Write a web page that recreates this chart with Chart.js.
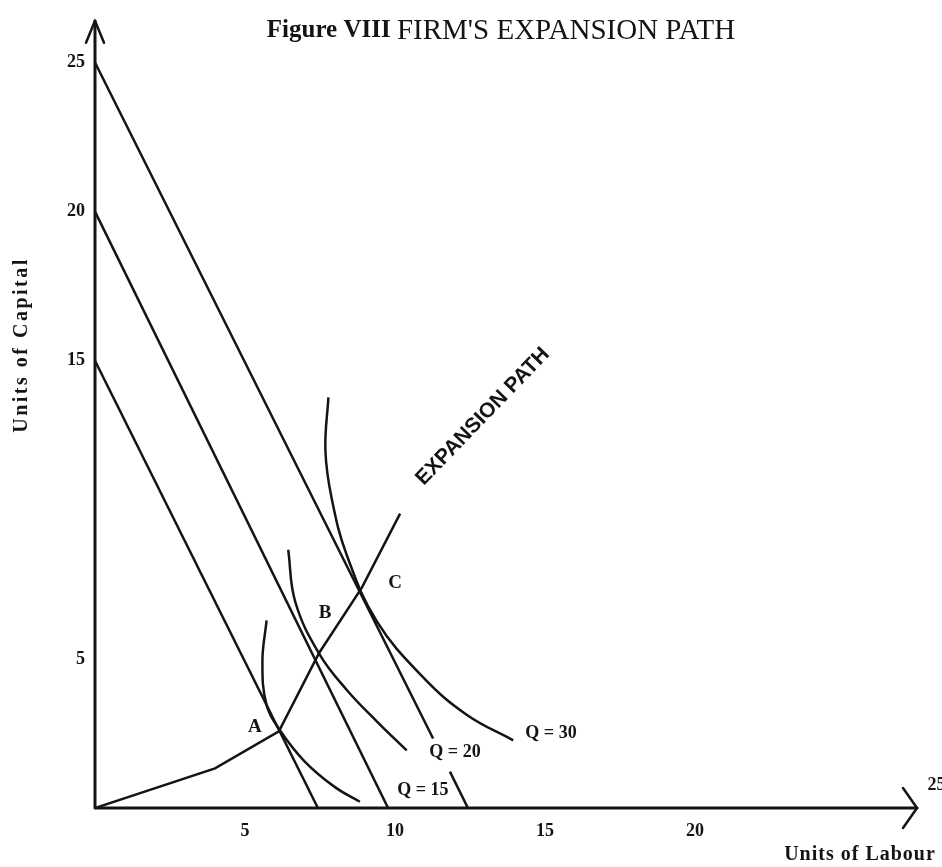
<!DOCTYPE html>
<html>
<head>
<meta charset="utf-8">
<script src="https://cdn.jsdelivr.net/npm/chart.js@4"></script>
<style>
  html, body { margin: 0; padding: 0; background: #fff; }
  #wrap { width: 942px; height: 867px; position: relative; }
</style>
</head>
<body>
<div id="wrap"><canvas id="chart"></canvas></div>
<script>
// Isocost lines (labour L, capital K)
const isocost15L = [0, 7.43];
const isocost15K = [15, 0];
const isocost20L = [0, 9.77];
const isocost20K = [20, 0];
const isocost25L = [0, 11.27, null, 11.83, 12.43]; // gap where "Q=20" is printed
const isocost25K = [25, 2.33, null, 1.22, 0];

// Isoquants
const q15L = [5.72, 5.58, 5.72, 6.17, 7.0, 8.0, 8.83];
const q15K = [6.29, 4.9, 3.45, 2.6, 1.55, 0.7, 0.21];
const q20L = [6.44, 6.68, 7.48, 8.4, 9.4, 10.39];
const q20K = [8.66, 6.9, 5.16, 3.95, 2.9, 1.93];
const q30L = [7.78, 7.68, 7.89, 8.39, 9.39, 10.94, 12.4, 13.94];
const q30K = [13.77, 12.0, 10.38, 8.49, 6.27, 4.38, 3.12, 2.27];

// Expansion path
const pathL = [0, 4, 6.13, 7.47, 8.9, 10.17];
const pathK = [0, 1.33, 2.57, 5.2, 7.4, 9.87];

// Tick labels
const xTicks = [5, 10, 15, 20];
const yTicks = [5, 15, 20, 25];

// Text labels placed in data units
const pointLabels = [
  { text: "A", L: 5.33, K: 2.7 },
  { text: "B", L: 7.67, K: 6.53 },
  { text: "C", L: 10.0, K: 7.55 },
];
const curveLabels = [
  { text: "Q = 15", L: 10.93, K: 0.6 },
  { text: "Q = 20", L: 12.0, K: 1.87 },
  { text: "Q = 30", L: 15.2, K: 2.5 },
];

const ink = "#141414";

function toPoints(xs, ys) {
  return xs.map((x, i) => ({ x: x, y: x === null ? null : ys[i] }));
}

function lineSet(xs, ys, curved) {
  return {
    data: toPoints(xs, ys),
    showLine: true,
    borderColor: ink,
    borderWidth: 2.5,
    pointRadius: 0,
    tension: curved ? 0.4 : 0,
    spanGaps: false,
  };
}

// 軸・矢印・文字を描くプラグイン
const decorPlugin = {
  id: "decor",
  afterDatasetsDraw(chart) {
    const ctx = chart.ctx;
    const xs = chart.scales.x;
    const ys = chart.scales.y;
    const area = chart.chartArea;
    const ox = xs.getPixelForValue(0);
    const oy = ys.getPixelForValue(0);

    ctx.save();
    ctx.strokeStyle = ink;
    ctx.fillStyle = ink;
    ctx.lineCap = "round";
    ctx.lineJoin = "round";

    // axes
    ctx.lineWidth = 3;
    ctx.beginPath();
    ctx.moveTo(ox, area.top);
    ctx.lineTo(ox, oy);
    ctx.lineTo(area.right, oy);
    ctx.stroke();

    // arrow heads
    ctx.lineWidth = 2.5;
    ctx.beginPath();
    ctx.moveTo(ox - 9, area.top + 22);
    ctx.lineTo(ox, area.top);
    ctx.lineTo(ox + 9, area.top + 22);
    ctx.moveTo(area.right - 14, oy - 20);
    ctx.lineTo(area.right, oy);
    ctx.lineTo(area.right - 14, oy + 20);
    ctx.stroke();

    // title
    ctx.textBaseline = "middle";
    ctx.textAlign = "left";
    const t1 = "Figure VIII ";
    const t2 = "FIRM'S EXPANSION PATH";
    const f1 = "bold 25px 'Liberation Serif'";
    const f2 = "29px 'Liberation Serif'";
    ctx.font = f1;
    const w1 = ctx.measureText(t1).width;
    ctx.font = f2;
    const w2 = ctx.measureText(t2).width;
    const tx = 501 - (w1 + w2) / 2;
    ctx.font = f1;
    ctx.fillText(t1, tx, 31);
    ctx.font = f2;
    ctx.fillText(t2, tx + w1, 31);

    // axis titles
    ctx.font = "bold 20px 'Liberation Serif'";
    ctx.letterSpacing = "2.5px";
    ctx.save();
    ctx.translate(22, 345);
    ctx.rotate(-Math.PI / 2);
    ctx.textAlign = "center";
    ctx.fillText("Units of Capital", 0, 0);
    ctx.restore();
    ctx.letterSpacing = "1px";
    ctx.textAlign = "center";
    ctx.fillText("Units of Labour", 860, 855);
    ctx.letterSpacing = "0px";

    // stray "25" by the arrow
    ctx.font = "bold 18px 'Liberation Serif'";
    ctx.fillText("25", xs.getPixelForValue(28.05), ys.getPixelForValue(0.75));

    // A, B, C
    ctx.font = "bold 19px 'Liberation Serif'";
    pointLabels.forEach((p) => {
      ctx.fillText(p.text, xs.getPixelForValue(p.L), ys.getPixelForValue(p.K));
    });

    // Q labels
    ctx.font = "bold 18px 'Liberation Serif'";
    curveLabels.forEach((p) => {
      ctx.fillText(p.text, xs.getPixelForValue(p.L), ys.getPixelForValue(p.K));
    });

    // EXPANSION PATH
    ctx.save();
    ctx.translate(xs.getPixelForValue(12.93), ys.getPixelForValue(13.13));
    ctx.rotate(-46 * Math.PI / 180);
    ctx.font = "bold 21px 'Liberation Sans'";
    ctx.textAlign = "center";
    ctx.fillText("EXPANSION PATH", 0, 0);
    ctx.restore();

    ctx.restore();
  },
};

new Chart(document.getElementById("chart"), {
  type: "scatter",
  data: {
    datasets: [
      lineSet(isocost15L, isocost15K, false),
      lineSet(isocost20L, isocost20K, false),
      lineSet(isocost25L, isocost25K, false),
      lineSet(q15L, q15K, true),
      lineSet(q20L, q20K, true),
      lineSet(q30L, q30K, true),
      lineSet(pathL, pathK, false),
    ],
  },
  options: {
    responsive: true,
    maintainAspectRatio: false,
    animation: false,
    layout: {
      padding: { top: 16, right: 25, left: 0, bottom: 0 },
    },
    plugins: {
      legend: { display: false },
      tooltip: { enabled: false },
    },
    scales: {
      x: {
        type: "linear",
        min: 0,
        max: 27.4,
        grid: { display: false, drawTicks: false },
        border: { display: false },
        afterBuildTicks: (scale) => {
          scale.ticks = xTicks.map((v) => ({ value: v }));
        },
        afterFit: (scale) => {
          scale.height = 59;
        },
        ticks: {
          padding: 13,
          color: ink,
          font: { family: "'Liberation Serif'", size: 18, weight: "bold" },
        },
      },
      y: {
        type: "linear",
        min: 0,
        max: 26.4,
        grid: { display: false, drawTicks: false },
        border: { display: false },
        afterBuildTicks: (scale) => {
          scale.ticks = yTicks.map((v) => ({ value: v }));
        },
        afterFit: (scale) => {
          scale.width = 95;
        },
        ticks: {
          padding: 10,
          color: ink,
          font: { family: "'Liberation Serif'", size: 18, weight: "bold" },
        },
      },
    },
  },
  plugins: [decorPlugin],
});
</script>
</body>
</html>
